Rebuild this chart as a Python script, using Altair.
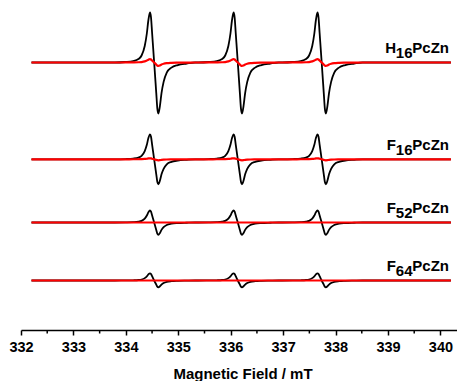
import altair as alt
import pandas as pd

# ---- data ----
samples = ["H16PcZn", "F16PcZn", "F52PcZn", "F64PcZn"]
label_main = ["H", "F", "F", "F"]
label_sub = ["16", "16", "52", "64"]
label_tail = ["PcZn", "PcZn", "PcZn", "PcZn"]
baselines = [26.75, 17.07, 10.75, 4.95]          # vertical offset of each spectrum (a.u.)
black_pos = [5.0, 2.5, 1.2, 0.72]                 # positive lobe height (a.u.)
black_neg = [5.1, 2.5, 1.23, 0.68]                # negative lobe depth (a.u.)
red_pos = [0.33, 0.1, 0.0, 0.0]
red_neg = [0.34, 0.1, 0.0, 0.0]
centers = [334.54, 336.135, 337.735]              # line centres (mT)
field_start = 332.2
field_end = 340.2
# first-derivative line shape (offset in mT, relative height)
profile_offset = [-0.75, -0.55, -0.40, -0.30, -0.24, -0.18, -0.14, -0.11, -0.08, -0.06, -0.04,
                  0.00, 0.04, 0.06, 0.08, 0.11, 0.14, 0.18, 0.24, 0.33, 0.45, 0.62, 0.78]
profile_value = [0.0, 0.01, 0.03, 0.07, 0.14, 0.33, 0.58, 0.85, 1.00, 0.90, 0.60,
                 0.0, -0.60, -0.90, -1.00, -0.85, -0.60, -0.38, -0.20, -0.10, -0.05, -0.02, 0.0]
major_ticks = [332, 333, 334, 335, 336, 337, 338, 339, 340]
minor_ticks = [332.5, 333.5, 334.5, 335.5, 336.5, 337.5, 338.5, 339.5]

# ---- build tables ----
rows = []
for i, s in enumerate(samples):
    for trace, ap, an in (("black", black_pos[i], black_neg[i]), ("red", red_pos[i], red_neg[i])):
        pts = [(field_start, baselines[i])]
        for c in centers:
            for o, p in zip(profile_offset, profile_value):
                a = ap if p > 0 else an
                pts.append((c + o, baselines[i] + a * p))
        pts.append((field_end, baselines[i]))
        for k, (x, y) in enumerate(pts):
            rows.append({"sample": s, "trace": trace, "field": x, "signal": y, "order": k})
df = pd.DataFrame(rows)
labels = pd.DataFrame({"main": label_main, "sub": label_sub, "tail": label_tail, "base": baselines})
minor_df = pd.DataFrame({"m": minor_ticks})

FONT = "Liberation Sans"
xscale = alt.Scale(domain=[332, 340.316], nice=False, zero=False)
yscale = alt.Scale(domain=[0, 32.2], nice=False, zero=False)

xaxis = alt.Axis(values=major_ticks, title="Magnetic Field / mT", format="d",
                 grid=False, domainColor="black", domainWidth=1.5,
                 tickColor="black", tickWidth=1.5, tickSize=5, labelFlush=False,
                 labelFont=FONT, labelFontSize=14.5, labelFontWeight="bold", labelColor="black",
                 labelPadding=5.5, titleFont=FONT, titleFontSize=15, titleFontWeight="bold",
                 titleColor="black", titlePadding=12, titleX=221.5)

black = alt.Chart(df[df.trace == "black"]).mark_line(color="black", strokeWidth=1.8, interpolate="monotone").encode(
    x=alt.X("field:Q", scale=xscale, axis=xaxis),
    y=alt.Y("signal:Q", scale=yscale, axis=None),
    detail="sample:N",
    order="order:Q",
)
red = alt.Chart(df[df.trace == "red"]).mark_line(color="#ff0000", strokeWidth=2.2, interpolate="monotone").encode(
    x=alt.X("field:Q", scale=xscale),
    y=alt.Y("signal:Q", scale=yscale),
    detail="sample:N",
    order="order:Q",
)
minor = alt.Chart(minor_df).mark_rule(color="black", strokeWidth=1.5).encode(
    x=alt.X("m:Q", scale=xscale),
    y=alt.value(322),
    y2=alt.value(325.5),
)
txt = dict(fontSize=15, fontWeight="bold", font=FONT, color="black", baseline="alphabetic", align="right")
tail = alt.Chart(labels).mark_text(dy=-9.5, **txt).encode(
    x=alt.value(428), y=alt.Y("base:Q", scale=yscale), text="tail:N")
sub = alt.Chart(labels).mark_text(dy=-4.5, **txt).encode(
    x=alt.value(391.5), y=alt.Y("base:Q", scale=yscale), text="sub:N")
main = alt.Chart(labels).mark_text(dy=-9.5, **txt).encode(
    x=alt.value(375), y=alt.Y("base:Q", scale=yscale), text="main:N")

chart = alt.layer(black, red, minor, tail, sub, main).properties(
    width=436, height=322,
    autosize=alt.AutoSizeParams(type="none"),
    padding={"left": 13, "top": 0, "right": 0, "bottom": 55},
    background="white",
).configure_view(stroke=None)

chart.save("out.html", embed_options={"renderer": "svg", "actions": False})
